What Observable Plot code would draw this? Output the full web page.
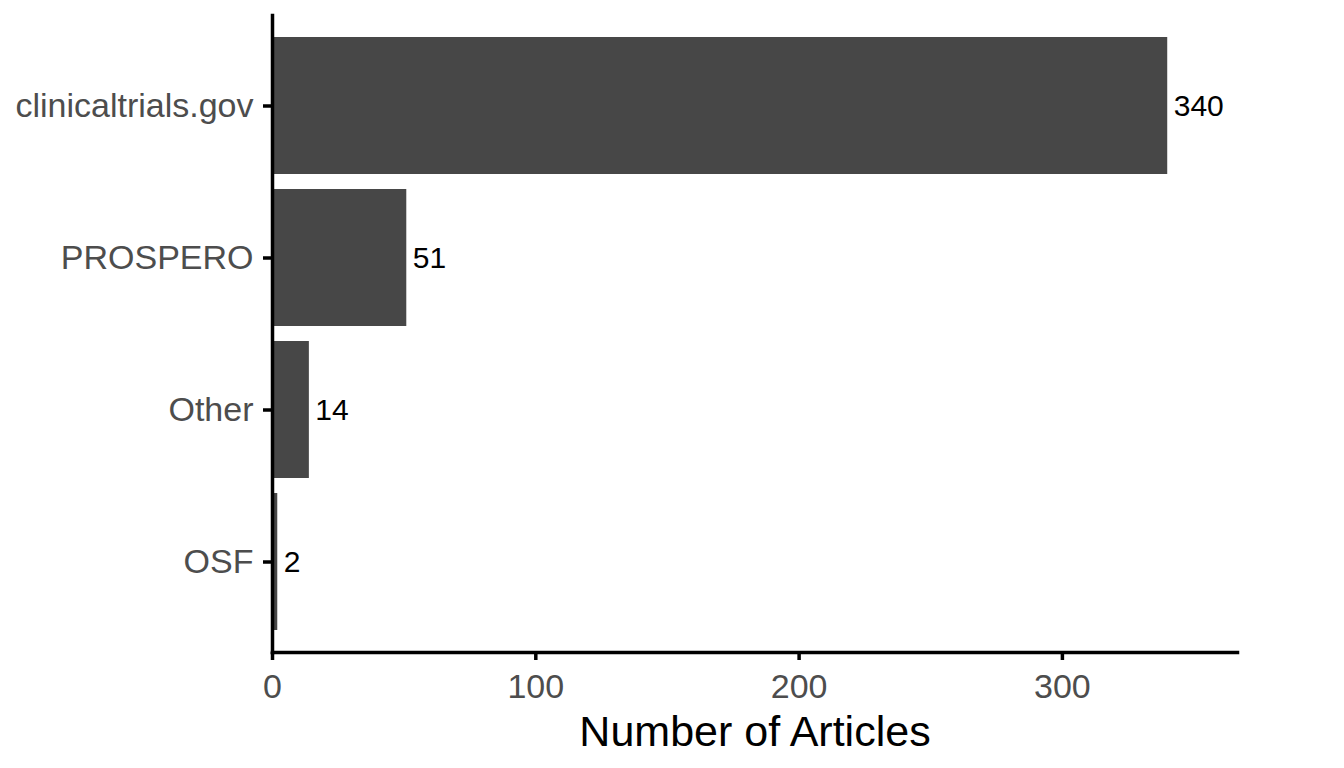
<!DOCTYPE html>
<html>
<head>
<meta charset="utf-8">
<script src="https://cdn.jsdelivr.net/npm/d3@7"></script>
<script src="https://cdn.jsdelivr.net/npm/@observablehq/plot@0.6"></script>
<style>
  body { margin: 0; background: #fff; }
  #chart { font-family: "Liberation Sans", Arial, sans-serif; }
</style>
</head>
<body>
<div id="chart"></div>
<script>
const categories = ["clinicaltrials.gov", "PROSPERO", "Other", "OSF"];
const articles = [340, 51, 14, 2];
const xTicks = [0, 100, 200, 300];
const xTitle = "Number of Articles";

const datos = categories.map((c, i) => ({registry: c, n: articles[i]}));

const plot = Plot.plot({
  width: 1344,
  height: 768,
  marginTop: 15,
  marginRight: 107,
  marginBottom: 116,
  marginLeft: 272,
  style: {fontFamily: "'Liberation Sans', Arial, sans-serif", background: "#fff"},
  x: {domain: [0, 366.5], label: null},
  y: {domain: categories, paddingInner: 0.1, paddingOuter: 0.145, label: null},
  marks: [
    Plot.barX(datos, {x: "n", y: "registry", fill: "#474747"}),
    Plot.text(datos, {
      x: "n", y: "registry", text: d => String(d.n),
      dx: 6, textAnchor: "start", fontSize: 30, fill: "#000"
    }),
    Plot.axisY({
      tickSize: 9, tickPadding: 10, fontSize: 34,
      stroke: "#000", strokeWidth: 3.5, fill: "#4d4d4d", label: null
    }),
    Plot.axisX({
      ticks: xTicks, tickSize: 8, tickPadding: 13, fontSize: 34,
      stroke: "#000", strokeWidth: 3.5, fill: "#4d4d4d", label: null
    }),
    Plot.frame({anchor: "left", stroke: "#000", strokeWidth: 3.5}),
    Plot.frame({anchor: "bottom", stroke: "#000", strokeWidth: 3.5}),
    Plot.text([xTitle], {
      text: d => d, frameAnchor: "bottom", lineAnchor: "top",
      dy: 63, fontSize: 43, fill: "#000"
    })
  ]
});

document.querySelector("#chart").appendChild(plot);
</script>
</body>
</html>
